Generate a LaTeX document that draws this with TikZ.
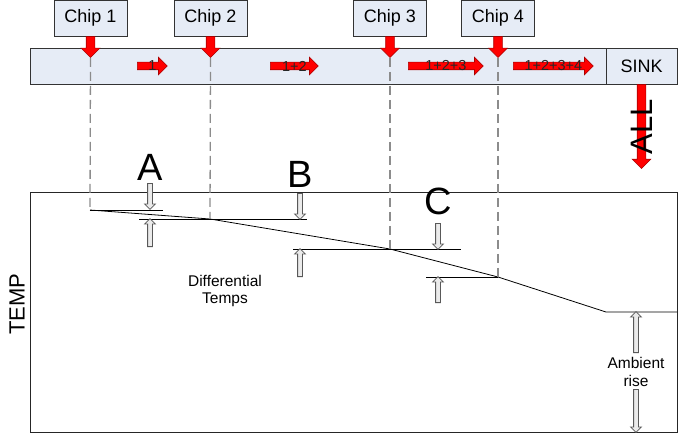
\documentclass[tikz,border=0pt]{standalone}
\usepackage{fontspec}
\setmainfont{Liberation Sans}
\usetikzlibrary{shapes.arrows,calc}

\definecolor{barfill}{RGB}{230,236,246}
\definecolor{heatred}{RGB}{255,0,0}
\definecolor{heatedge}{RGB}{170,0,0}

\tikzset{
    chipbox/.style={draw=black!80, fill=barfill, minimum width=73pt, minimum height=36pt, inner sep=0pt, font=\fontsize{18}{20}\selectfont},
    heat/.style={single arrow, draw=heatedge, fill=heatred, line width=0.6pt, inner sep=0pt, inner ysep=4pt, single arrow head extend=5pt},
    gap/.style={single arrow, draw=black!65, fill=black!8, line width=0.8pt, inner sep=0pt, inner ysep=2pt, single arrow head extend=3pt},
    guide/.style={black!45, line width=1.3pt, dash pattern=on 9pt off 5pt},
    flowlbl/.style={inner sep=0pt, text=black!85, font=\fontsize{14.5}{16}\selectfont},
    letter/.style={inner sep=0pt, font=\fontsize{38}{40}\selectfont},
    note/.style={inner sep=0pt, align=center, font=\fontsize{15.5}{17.5}\selectfont}
}

\begin{document}
\begin{tikzpicture}[x=1pt, y=-1pt]
    \useasboundingbox (0,0) rectangle (679,433);

    % Cooling bar and sink
    \draw[black!80, fill=barfill] (30,48) rectangle (606,84);
    \node[chipbox, minimum width=71pt] (sink) at (641.5,66) {SINK};

    % Chips with their heat input
    \node[chipbox] (c1) at (90.5,18) {Chip 1};
    \node[chipbox] (c2) at (210.5,18) {Chip 2};
    \node[chipbox] (c3) at (390,18) {Chip 3};
    \node[chipbox] (c4) at (498,18) {Chip 4};
    \foreach \i in {1,...,4}
        \node[heat, rotate=-90, minimum height=21pt, anchor=tail] (d\i) at (c\i.south) {};

    % Heat flowing along the bar
    \node[heat, inner ysep=3.5pt, minimum height=30pt, anchor=tail] (f1) at (137,66) {};
    \node[heat, inner ysep=3.5pt, minimum height=48pt, anchor=tail] (f2) at (270,66) {};
    \node[heat, inner ysep=3.5pt, minimum height=75pt, anchor=tail] (f3) at (408,66) {};
    \node[heat, inner ysep=3.5pt, minimum height=80pt, anchor=tail] (f4) at (513,66) {};
    \node[flowlbl] (t1) at ($(f1.tail)!0.5!(f1.tip)$) {1};
    \node[flowlbl] (t2) at ($(f2.tail)!0.5!(f2.tip)$) {1+2};
    \node[flowlbl] (t3) at ($(f3.tail)!0.5!(f3.tip)$) {1+2+3};
    \node[flowlbl] (t4) at ($(f4.tail)!0.5!(f4.tip)$) {1+2+3+4};

    % Heat into the sink
    \node[heat, rotate=-90, minimum height=84pt, anchor=tail] (dall) at (sink.south) {};
    \node[inner sep=0pt, rotate=90, font=\fontsize{31}{33}\selectfont] (all) at (642,127) {ALL};

    % Temperature plot
    \draw[black!85, line width=0.8pt] (30,192) rectangle (677,432);
    \node[inner sep=0pt, rotate=90, font=\fontsize{22}{24}\selectfont] (temp) at (17,304) {TEMP};

    \coordinate (p1) at (90,210);
    \coordinate (p2) at (210,219);
    \coordinate (p3) at (390,249);
    \coordinate (p4) at (498,277);
    \coordinate (p5) at (606,312);
    \coordinate (p6) at (677,312);
    \draw[line width=0.8pt] (p1) -- (p2) -- (p3) -- (p4) -- (p5) -- (p6);

    % Chip positions dropped onto the plot
    \draw[guide] (d1.tip) -- (p1);
    \draw[guide] (d2.tip) -- (p2);
    \draw[guide] (d3.tip) -- (p3);
    \draw[guide] (d4.tip) -- (p4);

    % Reference levels
    \draw[line width=0.8pt] (p1) -- (163,210);
    \draw[line width=0.8pt] (139,219) -- (307,219);
    \draw[line width=0.8pt] (293,249) -- (461,249);
    \draw[line width=0.8pt] (426,277) -- (p4);

    % Differential temperatures
    \node[gap, rotate=-90, minimum height=26pt, anchor=tail] (ga1) at (150,183) {};
    \node[gap, rotate=90, minimum height=28pt, anchor=tail] (ga2) at (150,247) {};
    \node[gap, rotate=-90, minimum height=26pt, anchor=tail] (gb1) at (300,193) {};
    \node[gap, rotate=90, minimum height=28pt, anchor=tail] (gb2) at (300,277) {};
    \node[gap, rotate=-90, minimum height=26pt, anchor=tail] (gc1) at (438,223) {};
    \node[gap, rotate=90, minimum height=26pt, anchor=tail] (gc2) at (438,303) {};
    \node[letter] (la) at (150,167) {A};
    \node[letter] (lb) at (300,174) {B};
    \node[letter] (lc) at (438,201) {C};
    \node[note] (diff) at (225,291) {Differential\\Temps};

    % Ambient rise
    \node[gap, rotate=90, minimum height=41pt, anchor=tail] (gr1) at (636,353) {};
    \node[gap, rotate=-90, minimum height=43pt, anchor=tail] (gr2) at (636,389) {};
    \node[note] (amb) at (636,372) {Ambient\\rise};
\end{tikzpicture}
\end{document}
